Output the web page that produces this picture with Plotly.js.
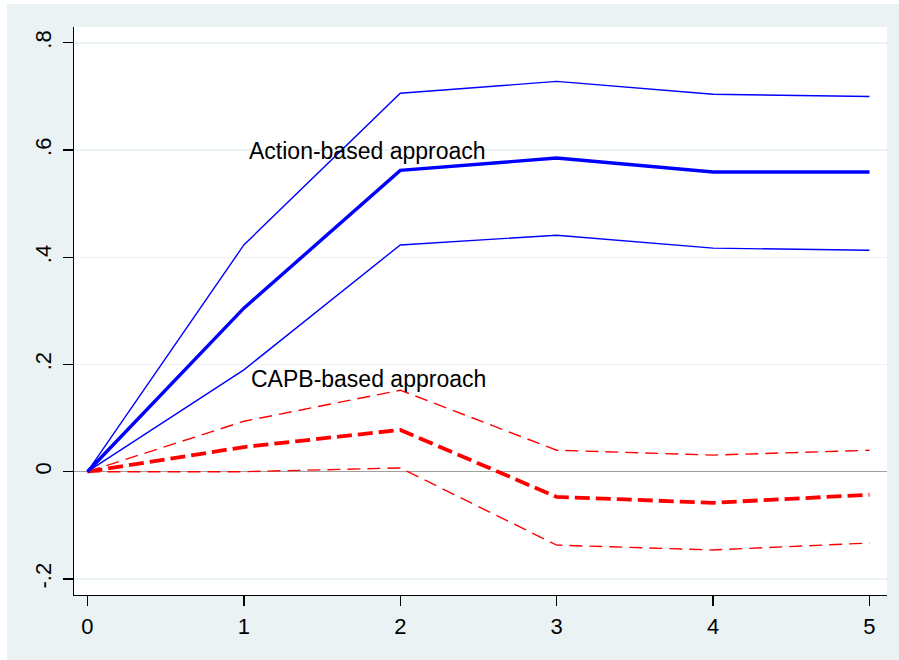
<!DOCTYPE html>
<html>
<head>
<meta charset="utf-8">
<script src="https://cdn.plot.ly/plotly-3.0.1.min.js"></script>
<style>
html,body{margin:0;padding:0;background:#ffffff;}
#chart{position:absolute;left:7px;top:4px;width:892px;height:656px;}
</style>
</head>
<body>
<div id="chart"></div>
<script>
// Horizon (x axis)
var horizon = [0, 1, 2, 3, 4, 5];
// Action-based approach
var actionMid   = [0, 0.305, 0.562, 0.585, 0.559, 0.559];
var actionUpper = [0, 0.423, 0.706, 0.728, 0.704, 0.700];
var actionLower = [0, 0.190, 0.423, 0.441, 0.417, 0.413];
// CAPB-based approach
var capbMid   = [0, 0.046, 0.078, -0.047, -0.058, -0.043];
var capbUpper = [0, 0.094, 0.152, 0.040, 0.031, 0.040];
var capbLower = [0, 0.000, 0.007, -0.137, -0.146, -0.133];
// Tick labels
var yTickVals = [-0.2, 0, 0.2, 0.4, 0.6, 0.8];
var yTickText = ["-.2", "0", ".2", ".4", ".6", ".8"];
var xTickVals = [0, 1, 2, 3, 4, 5];
var xTickText = ["0", "1", "2", "3", "4", "5"];
// Labels
var labelAction = "Action-based approach";
var labelCapb = "CAPB-based approach";

var BLUE = "#0000FF", RED = "#FF0000";
function tr(y, color, width, dash) {
  return {x: horizon, y: y, type: "scatter", mode: "lines",
          line: {color: color, width: width, dash: dash || "solid"},
          hoverinfo: "skip", showlegend: false};
}
var data = [
  tr(capbUpper, RED, 1.4, "13px,7px"),
  tr(capbLower, RED, 1.4, "13px,7px"),
  tr(capbMid, RED, 3.8, "15px,6px"),
  tr(actionUpper, BLUE, 1.4),
  tr(actionLower, BLUE, 1.4),
  tr(actionMid, BLUE, 3.4)
];

var FAM = "Liberation Sans, Arial, sans-serif";
var tickFont = {family: FAM, size: 22, color: "#000000"};
var annFont = {family: FAM, size: 23, color: "#000000"};
var layout = {
  width: 892, height: 656,
  margin: {l: 67, r: 12, t: 23, b: 65, pad: 0},
  paper_bgcolor: "#EAF2F3",
  plot_bgcolor: "#FFFFFF",
  font: tickFont,
  showlegend: false,
  xaxis: {
    range: [-0.086, 5.112],
    tickvals: xTickVals, ticktext: xTickText,
    ticks: "outside", ticklen: 10, tickwidth: 1.3, tickcolor: "#000000",
    showline: true, linecolor: "#000000", linewidth: 1.3,
    showgrid: false, zeroline: false,
    tickfont: tickFont, ticklabelstandoff: 1
  },
  yaxis: {
    range: [-0.230, 0.8295],
    tickvals: yTickVals, ticktext: yTickText,
    tickangle: -90,
    ticks: "outside", ticklen: 10, tickwidth: 1.3, tickcolor: "#000000",
    showline: true, linecolor: "#000000", linewidth: 1.3,
    showgrid: true, gridcolor: "#EAF2F3", gridwidth: 1.5,
    zeroline: true, zerolinecolor: "#A0A0A0", zerolinewidth: 1.2,
    tickfont: tickFont, ticklabelstandoff: 3
  },
  annotations: [
    {x: 1.02, y: 0.598, xref: "x", yref: "y", text: labelAction, showarrow: false,
     xanchor: "left", yanchor: "middle", font: annFont},
    {x: 1.03, y: 0.173, xref: "x", yref: "y", text: labelCapb, showarrow: false,
     xanchor: "left", yanchor: "middle", font: annFont}
  ]
};
Plotly.newPlot("chart", data, layout, {displayModeBar: false, staticPlot: true});
</script>
</body>
</html>
